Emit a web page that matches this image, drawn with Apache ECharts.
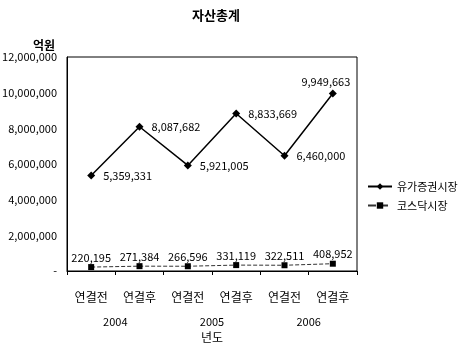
<!DOCTYPE html>
<html>
<head>
<meta charset="utf-8">
<script src="https://cdn.jsdelivr.net/npm/echarts@6/dist/echarts.min.js"></script>
<style>
  html, body { margin: 0; padding: 0; background: #fff; }
  #chart { width: 464px; height: 345px; }
</style>
</head>
<body>
<div id="chart"></div>
<script>
// 자산총계 by market, before/after the merger
const categories = ['연결전', '연결후', '연결전', '연결후', '연결전', '연결후'];
const years = ['2004', '2005', '2006'];
const kospi = [5359331, 8087682, 5921005, 8833669, 6460000, 9949663];
const kosdaq = [220195, 271384, 266596, 331119, 322511, 408952];
const seriesNames = ['유가증권시장', '코스닥시장'];

const FONT = '"Noto Sans CJK KR", "Noto Sans", sans-serif';
const fmt = v => v.toLocaleString('en-US');

const chart = echarts.init(document.getElementById('chart'));
chart.setOption({
  animation: false,
  textStyle: { fontFamily: FONT, color: '#000' },
  title: {
    text: '자산총계',
    left: 211, top: 4, textAlign: 'center',
    textStyle: { fontSize: 13, fontWeight: 'bold', fontFamily: FONT, color: '#000' }
  },
  grid: {
    left: 67, right: 107, top: 57, bottom: 74,
    outerBoundsMode: 'none', containLabel: false,
    show: true, borderColor: '#000', borderWidth: 1, backgroundColor: '#fff'
  },
  legend: {
    orient: 'vertical', left: 362, top: 176, itemGap: 8,
    itemWidth: 24, itemHeight: 8,
    textStyle: { fontSize: 11, fontFamily: FONT, color: '#000' },
    data: seriesNames
  },
  xAxis: [{
    type: 'category', data: categories, boundaryGap: true,
    axisLine: { lineStyle: { color: '#000' } },
    axisTick: { show: true, length: 4, lineStyle: { color: '#000' } },
    axisLabel: { fontSize: 12, color: '#000', margin: 20, fontFamily: FONT }
  }, {
    type: 'category', data: years, position: 'bottom', offset: 40,
    axisLine: { show: false }, axisTick: { show: false },
    axisLabel: { fontSize: 11, color: '#000', margin: 5, fontFamily: FONT },
    name: '년도', nameLocation: 'middle', nameGap: 20,
    nameTextStyle: { fontSize: 12, color: '#000', fontFamily: FONT }
  }],
  yAxis: {
    type: 'value', min: 0, max: 12000000, interval: 2000000,
    name: '억원', nameLocation: 'end', nameGap: 6,
    nameTextStyle: { fontSize: 12, fontWeight: 'bold', color: '#000', align: 'right', padding: [0, 12, 0, 0] },
    axisLine: { show: true, lineStyle: { color: '#000' } },
    axisTick: { show: false },
    splitLine: { show: false },
    axisLabel: {
      fontSize: 11, color: '#000', margin: 10, fontFamily: FONT,
      formatter: v => v === 0 ? '-' : fmt(v)
    }
  },
  series: [{
    name: seriesNames[0], type: 'line', data: kospi,
    symbol: 'diamond', symbolSize: 8,
    lineStyle: { color: '#000', width: 1.5 },
    itemStyle: { color: '#000' },
    label: {
      show: true, position: 'right', distance: 8, offset: [0, 4],
      fontSize: 11, color: '#000', fontFamily: FONT,
      formatter: p => fmt(p.value)
    },
    labelLayout: function (params) {
      if (params.dataIndex === 5) {
        return { x: params.rect.x - 3, y: params.rect.y - 2, align: 'center', verticalAlign: 'bottom' };
      }
    }
  }, {
    name: seriesNames[1], type: 'line', data: kosdaq,
    symbol: 'rect', symbolSize: 6,
    lineStyle: { color: '#333', width: 1, type: 'dashed' },
    itemStyle: { color: '#000' },
    label: {
      show: true, position: 'top', distance: 2, offset: [0, 1],
      fontSize: 11, color: '#000', fontFamily: FONT,
      formatter: p => fmt(p.value)
    }
  }]
});
</script>
</body>
</html>
